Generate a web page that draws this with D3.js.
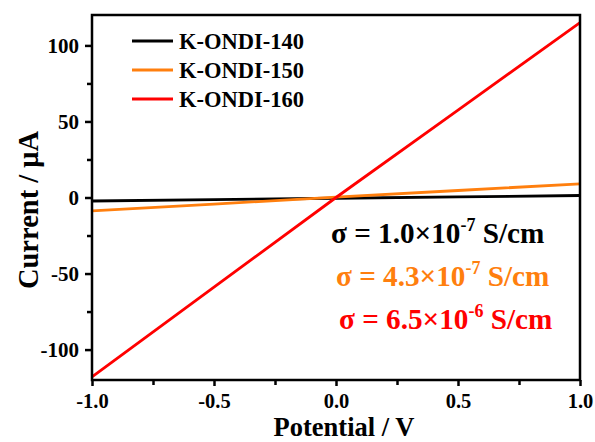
<!DOCTYPE html>
<html><head><meta charset="utf-8">
<script src="https://cdn.jsdelivr.net/npm/d3@7"></script>
<style>body{margin:0;background:#fff}svg{display:block}text{font-family:"Liberation Serif","Times New Roman",serif;font-weight:bold}</style>
</head><body><svg id="c" width="595" height="442"></svg>
<script>
const potentials = [-1.0, -0.5, 0.0, 0.5, 1.0];
const seriesNames = ["K-ONDI-140", "K-ONDI-150", "K-ONDI-160"];
const seriesColors = ["#000000", "#ff7f0e", "#ff0000"];
const current140 = [-2.3, -1.4, -0.5, 0.4, 1.3];
const current150 = [-8.8, -4.3, 0.2, 4.6, 9.0];
const current160 = [-118, -59, 0, 57.5, 115];
const xTicks = [-1.0, -0.5, 0.0, 0.5, 1.0];
const yTicks = [-100, -50, 0, 50, 100];
const sigmaMant = ["1.0", "4.3", "6.5"];
const sigmaExp = ["-7", "-7", "-6"];

const svg = d3.select("#c");
const L = 92, R = 580, T = 15, B = 380;
const x = d3.scaleLinear().domain([-1, 1]).range([L, R]);
const y = d3.scaleLinear().domain([-120, 120]).range([B, T]);

const xMinor = [-0.75, -0.25, 0.25, 0.75];
const yMinor = [-75, -25, 25, 75];
const fmtX = d => d3.format(".1f")(d).replace("\u2212", "-");
const fmtY = d => String(d);

const gx = svg.append("g").attr("transform", `translate(0,${B})`)
  .call(d3.axisBottom(x).tickValues(xTicks).tickFormat(fmtX).tickSize(6).tickPadding(7.5));
gx.selectAll(".tick text").attr("font-size", 20.5).attr("fill", "#000");
gx.selectAll(".tick line").attr("stroke-width", 2.5);
gx.select(".domain").remove();
svg.append("g").attr("transform", `translate(0,${B})`)
  .call(d3.axisBottom(x).tickValues(xMinor).tickFormat("").tickSize(5))
  .call(g => { g.select(".domain").remove(); g.selectAll("line").attr("stroke-width", 2.5); });

const gy = svg.append("g").attr("transform", `translate(${L},0)`)
  .call(d3.axisLeft(y).tickValues(yTicks).tickFormat(fmtY).tickSize(7).tickPadding(6));
gy.selectAll(".tick text").attr("font-size", 21).attr("fill", "#000");
gy.selectAll(".tick line").attr("stroke-width", 2.5);
gy.select(".domain").remove();
svg.append("g").attr("transform", `translate(${L},0)`)
  .call(d3.axisLeft(y).tickValues(yMinor).tickFormat("").tickSize(5))
  .call(g => { g.select(".domain").remove(); g.selectAll("line").attr("stroke-width", 2.5); });

// lines
const data = [current140, current150, current160];
const line = d3.line().x((d, i) => x(potentials[i])).y(d => y(d));
data.forEach((s, k) => {
  svg.append("path").datum(s).attr("d", line).attr("fill", "none")
    .attr("stroke", seriesColors[k]).attr("stroke-width", 2.8);
});

// frame
svg.append("rect").attr("x", L).attr("y", T).attr("width", R - L).attr("height", B - T)
  .attr("fill", "none").attr("stroke", "#000").attr("stroke-width", 2.5);

// legend
seriesNames.forEach((n, k) => {
  const yy = 41 + k * 29;
  svg.append("line").attr("x1", 132).attr("x2", 173).attr("y1", yy).attr("y2", yy)
    .attr("stroke", seriesColors[k]).attr("stroke-width", 2.8);
  svg.append("text").attr("x", 179).attr("y", yy + 7.5).attr("font-size", 22.5).attr("fill", "#000").text(n);
});

// sigma annotations
const sigX = [331, 336, 339];
const sigY = [243, 286, 329];
sigmaMant.forEach((m, k) => {
  const t = svg.append("text").attr("x", sigX[k]).attr("y", sigY[k]).attr("font-size", 29.2).attr("fill", seriesColors[k]);
  t.append("tspan").text(`σ = ${m}×10`);
  t.append("tspan").attr("dy", -12).attr("font-size", 18).text(sigmaExp[k]);
  t.append("tspan").attr("dy", 12).text(" S/cm");
});

// axis titles
svg.append("text").attr("x", 344).attr("y", 436).attr("text-anchor", "middle").attr("font-size", 26.5).text("Potential / V");
svg.append("text").attr("transform", "translate(38,210) rotate(-90)").attr("text-anchor", "middle").attr("font-size", 28.5).text("Current / μA");
</script></body></html>
